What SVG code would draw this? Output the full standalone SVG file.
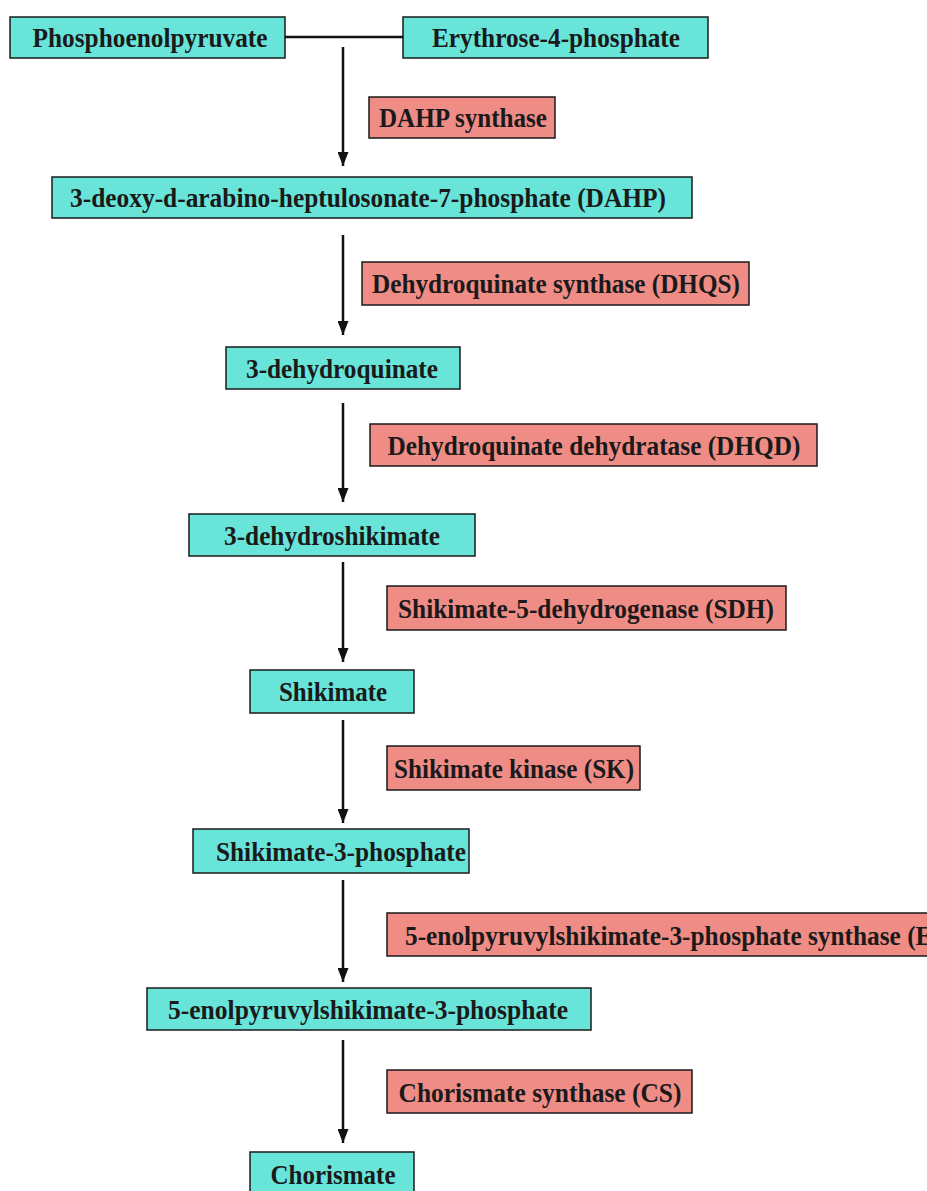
<svg xmlns="http://www.w3.org/2000/svg" width="927" height="1191" viewBox="0 0 927 1191">
<defs>
<style>
.sub{fill:#68E4D9;stroke:#1a1a1a;stroke-width:1.5}
.enz{fill:#F08C86;stroke:#1a1a1a;stroke-width:1.5}
text{font-family:"Liberation Serif","Times New Roman",serif;font-weight:bold;font-size:28px;fill:#1a1a1a;text-anchor:middle}
.edge{stroke:#111;stroke-width:2.5;fill:none}
</style>
<marker id="ah" viewBox="0 0 14 11" refX="14" refY="5.5" markerWidth="14" markerHeight="11" markerUnits="userSpaceOnUse" orient="auto">
<path d="M0,0 L14,5.5 L0,11 Z" fill="#111"/>
</marker>
</defs>
<rect width="927" height="1191" fill="#ffffff"/>
<g id="connectors">
<line class="edge" x1="285" y1="37" x2="403" y2="37"/>
<line class="edge" x1="343" y1="47" x2="343" y2="166" marker-end="url(#ah)"/>
<line class="edge" x1="343" y1="235" x2="343" y2="335" marker-end="url(#ah)"/>
<line class="edge" x1="343" y1="403" x2="343" y2="502" marker-end="url(#ah)"/>
<line class="edge" x1="343" y1="562" x2="343" y2="662" marker-end="url(#ah)"/>
<line class="edge" x1="343" y1="720" x2="343" y2="823" marker-end="url(#ah)"/>
<line class="edge" x1="343" y1="880" x2="343" y2="982" marker-end="url(#ah)"/>
<line class="edge" x1="343" y1="1040" x2="343" y2="1143" marker-end="url(#ah)"/>
</g>
<g id="pep"><rect class="sub" x="10" y="17" width="275" height="41"/><text x="150" y="47" textLength="235" lengthAdjust="spacingAndGlyphs">Phosphoenolpyruvate</text></g>
<g id="e4p"><rect class="sub" x="403" y="17" width="305" height="41"/><text x="556" y="47" textLength="248" lengthAdjust="spacingAndGlyphs">Erythrose-4-phosphate</text></g>
<g id="dahps"><rect class="enz" x="369" y="97" width="186" height="41"/><text x="463" y="127" textLength="168" lengthAdjust="spacingAndGlyphs">DAHP synthase</text></g>
<g id="dahp"><rect class="sub" x="52" y="177" width="640" height="41"/><text x="368" y="207" textLength="596" lengthAdjust="spacingAndGlyphs">3-deoxy-d-arabino-heptulosonate-7-phosphate (DAHP)</text></g>
<g id="dhqs"><rect class="enz" x="362" y="262" width="387" height="43"/><text x="556" y="293" textLength="368" lengthAdjust="spacingAndGlyphs">Dehydroquinate synthase (DHQS)</text></g>
<g id="dhq"><rect class="sub" x="226" y="347" width="234" height="42"/><text x="342" y="378" textLength="192" lengthAdjust="spacingAndGlyphs">3-dehydroquinate</text></g>
<g id="dhqd"><rect class="enz" x="370" y="424" width="447" height="42"/><text x="594" y="455" textLength="413" lengthAdjust="spacingAndGlyphs">Dehydroquinate dehydratase (DHQD)</text></g>
<g id="dhs"><rect class="sub" x="189" y="514" width="286" height="42"/><text x="332" y="545" textLength="216" lengthAdjust="spacingAndGlyphs">3-dehydroshikimate</text></g>
<g id="sdh"><rect class="enz" x="387" y="586" width="399" height="44"/><text x="586" y="618" textLength="376" lengthAdjust="spacingAndGlyphs">Shikimate-5-dehydrogenase (SDH)</text></g>
<g id="shik"><rect class="sub" x="250" y="670" width="164" height="43"/><text x="333" y="701" textLength="108" lengthAdjust="spacingAndGlyphs">Shikimate</text></g>
<g id="sk"><rect class="enz" x="387" y="746" width="253" height="44"/><text x="514" y="778" textLength="240" lengthAdjust="spacingAndGlyphs">Shikimate kinase (SK)</text></g>
<g id="s3p"><rect class="sub" x="193" y="829" width="276" height="44"/><text x="341" y="861" textLength="250" lengthAdjust="spacingAndGlyphs">Shikimate-3-phosphate</text></g>
<g id="epsps"><rect class="enz" x="387" y="913" width="600" height="43"/><text x="405" y="945" style="text-anchor:start" textLength="595" lengthAdjust="spacingAndGlyphs">5-enolpyruvylshikimate-3-phosphate synthase (EPSPS)</text></g>
<g id="esp"><rect class="sub" x="147" y="988" width="444" height="42"/><text x="368" y="1019" textLength="400" lengthAdjust="spacingAndGlyphs">5-enolpyruvylshikimate-3-phosphate</text></g>
<g id="cs"><rect class="enz" x="387" y="1070" width="305" height="43"/><text x="540" y="1102" textLength="283" lengthAdjust="spacingAndGlyphs">Chorismate synthase (CS)</text></g>
<g id="chor"><rect class="sub" x="250" y="1152" width="164" height="45"/><text x="333" y="1184" textLength="125" lengthAdjust="spacingAndGlyphs">Chorismate</text></g>
</svg>
